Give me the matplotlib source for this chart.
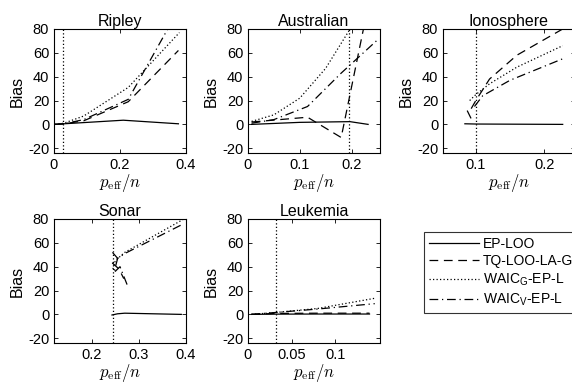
import matplotlib
matplotlib.use("Agg")
import matplotlib.pyplot as plt
from matplotlib.lines import Line2D

plt.rcParams['font.family'] = ['Liberation Sans', 'DejaVu Sans']
plt.rcParams['mathtext.fontset'] = 'custom'
plt.rcParams['mathtext.rm'] = 'Liberation Sans'
plt.rcParams['mathtext.it'] = 'Liberation Sans:italic'

# ---------------- data ----------------
titles = ["Ripley", "Australian", "Ionosphere", "Sonar", "Leukemia"]
method_names = ["EP-LOO", "TQ-LOO-LA-G", "WAIC$_\\mathrm{G}$-EP-L", "WAIC$_\\mathrm{V}$-EP-L"]

# Ripley
rip_ep_x = [0.003, 0.03, 0.09, 0.21, 0.377]
rip_ep_y = [0, 0.5, 1.5, 3.5, 0.5]
rip_tq_x = [0.003, 0.03, 0.09, 0.225, 0.377]
rip_tq_y = [0, 0.5, 3, 19, 62]
rip_wg_x = [0.003, 0.03, 0.09, 0.225, 0.38]
rip_wg_y = [0, 1, 7, 31, 77]
rip_wv_x = [0.003, 0.03, 0.09, 0.225, 0.377]
rip_wv_y = [0, 0.5, 4, 21, 96]
rip_vline = 0.027

# Australian
aus_ep_x = [0.007, 0.1, 0.197, 0.232]
aus_ep_y = [0, 1.7, 2.3, 0]
aus_tq_x = [0.007, 0.115, 0.18, 0.232]
aus_tq_y = [2, 6, -11, 99]
aus_wg_x = [0.007, 0.05, 0.1, 0.15, 0.2]
aus_wg_y = [2.5, 8, 22, 47, 82]
aus_wv_x = [0.007, 0.05, 0.115, 0.18, 0.248]
aus_wv_y = [1, 4, 15, 43, 70]
aus_vline = 0.196

# Ionosphere
ion_ep_x = [0.084, 0.1, 0.227]
ion_ep_y = [0.5, 0.3, 0]
ion_tq_x = [0.093, 0.087, 0.092, 0.1, 0.12, 0.16, 0.227]
ion_tq_y = [5, 12, 12, 20, 38, 58, 80]
ion_wg_x = [0.091, 0.1, 0.12, 0.16, 0.227]
ion_wg_y = [20, 25, 34, 48, 66]
ion_wv_x = [0.098, 0.11, 0.15, 0.227]
ion_wv_y = [15, 24, 37, 55]
ion_vline = 0.1

# Sonar
son_ep_x = [0.243, 0.255, 0.27, 0.39]
son_ep_y = [-0.5, 0.5, 1, 0]
son_tq_x = [0.244, 0.255, 0.244, 0.258, 0.268]
son_tq_y = [52, 47, 43, 38, 30]
son_wg_x = [0.245, 0.25, 0.27, 0.4]
son_wg_y = [38, 45, 52, 81]
son_wv_x = [0.275, 0.26, 0.247, 0.255, 0.27, 0.39]
son_wv_y = [25, 40, 35, 47, 51, 75]
son_vline = 0.245

# Leukemia
leu_ep_x = [0.004, 0.03, 0.08, 0.139]
leu_ep_y = [0, 0.2, 0.3, 0.3]
leu_tq_x = [0.004, 0.03, 0.08, 0.139]
leu_tq_y = [0, 0.8, 1, 1]
leu_wg_x = [0.004, 0.03, 0.08, 0.145]
leu_wg_y = [0, 1.5, 5, 13.5]
leu_wv_x = [0.004, 0.03, 0.08, 0.145]
leu_wv_y = [0, 1.5, 4.5, 9]
leu_vline = 0.0325

xlims = [(0, 0.4), (0, 0.255), (0.052, 0.245), (0.12, 0.4), (0, 0.151)]
xticks = [[0, 0.2, 0.4], [0, 0.1, 0.2], [0.1, 0.2], [0.2, 0.3, 0.4], [0, 0.05, 0.1]]
xticklabels = [["0", "0.2", "0.4"], ["0", "0.1", "0.2"], ["0.1", "0.2"],
               ["0.2", "0.3", "0.4"], ["0", "0.05", "0.1"]]
yticks = [-20, 0, 20, 40, 60, 80]
yticklabels = ["-20", "0", "20", "40", "60", "80"]

series = [
    [(rip_ep_x, rip_ep_y), (rip_tq_x, rip_tq_y), (rip_wg_x, rip_wg_y), (rip_wv_x, rip_wv_y)],
    [(aus_ep_x, aus_ep_y), (aus_tq_x, aus_tq_y), (aus_wg_x, aus_wg_y), (aus_wv_x, aus_wv_y)],
    [(ion_ep_x, ion_ep_y), (ion_tq_x, ion_tq_y), (ion_wg_x, ion_wg_y), (ion_wv_x, ion_wv_y)],
    [(son_ep_x, son_ep_y), (son_tq_x, son_tq_y), (son_wg_x, son_wg_y), (son_wv_x, son_wv_y)],
    [(leu_ep_x, leu_ep_y), (leu_tq_x, leu_tq_y), (leu_wg_x, leu_wg_y), (leu_wv_x, leu_wv_y)],
]
vlines = [rip_vline, aus_vline, ion_vline, son_vline, leu_vline]

# ---------------- styles ----------------
styles = [
    dict(linestyle='-'),
    dict(linestyle=(0, (7, 4.5))),
    dict(linestyle=(0, (1, 1.8))),
    dict(linestyle=(0, (7, 3, 1, 3))),
]

fig = plt.figure(figsize=(5.72, 3.84), dpi=100)
W, H = 572.0, 384.0
positions = [(54, 29), (248, 29), (443, 29), (54, 219), (248, 219)]
aw, ah = 132, 124

for i, (px, py) in enumerate(positions):
    ax = fig.add_axes([px / W, 1 - (py + ah) / H, aw / W, ah / H])
    for (x, y), st in zip(series[i], styles):
        ax.plot(x, y, color='black', lw=0.9, **st)
    ax.axvline(vlines[i], color='black', lw=0.9, linestyle=(0, (1, 1.8)))
    ax.set_xlim(*xlims[i])
    ax.set_ylim(-24, 80)
    ax.set_xticks(xticks[i])
    ax.set_xticklabels(xticklabels[i])
    ax.set_yticks(yticks)
    ax.set_yticklabels(yticklabels)
    ax.tick_params(direction='in', top=True, right=True, length=3, width=0.6,
                   labelsize=10.5, pad=3.5)
    for s in ax.spines.values():
        s.set_linewidth(0.8)
    ax.set_title(titles[i], fontsize=11.5, pad=2)
    ax.set_ylabel("Bias", fontsize=11.5, labelpad=2)
    ax.set_xlabel(r"$p_{\rm eff}/n$", fontsize=12, math_fontfamily='cm', labelpad=0)

handles = [Line2D([], [], color='black', lw=0.9, **st) for st in styles]
leg = fig.legend(handles, method_names, loc='upper left',
                 bbox_to_anchor=(424 / W, 1 - 232 / H), fontsize=10,
                 frameon=True, fancybox=False, edgecolor='black',
                 handlelength=3.6, handletextpad=0.3, labelspacing=0.25,
                 borderpad=0.35, borderaxespad=0)
leg.get_frame().set_linewidth(0.8)

fig.savefig("out.png", dpi=100)
